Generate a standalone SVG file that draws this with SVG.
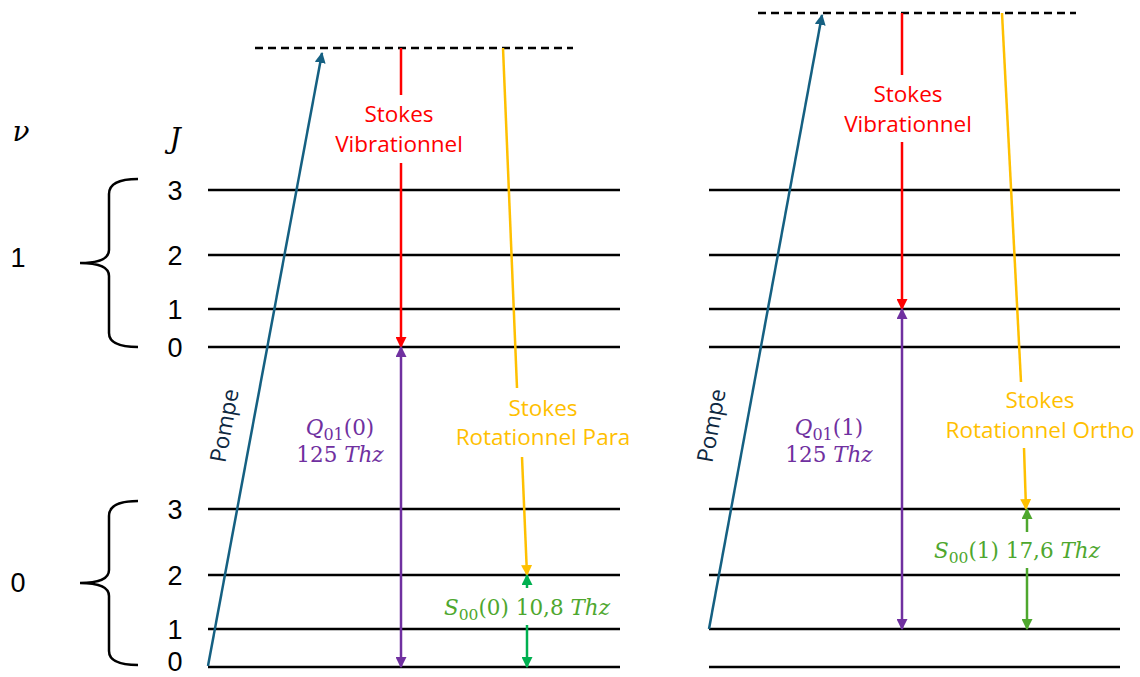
<svg xmlns="http://www.w3.org/2000/svg" width="1140" height="677" viewBox="0 0 1140 677">
<style>
.lvl{stroke:#000;stroke-width:2.5}
.dash{stroke:#000;stroke-width:2.5;stroke-dasharray:8 5}
.brace{fill:none;stroke:#000;stroke-width:2.5}
.num{font-family:"Liberation Sans",Arial,sans-serif;font-size:27px;fill:#000;text-anchor:middle}
.lab{font-family:"Open Sans","Liberation Sans",sans-serif;font-size:22.5px;text-anchor:middle}
.math{font-family:"DejaVu Serif","Liberation Serif",serif;font-size:21.5px;text-anchor:middle}
.it{font-style:italic}
.pump{stroke:#156082;stroke-width:2.5;fill:none}
.red{stroke:#FF0000;stroke-width:2.5;fill:none}
.yel{stroke:#FFC000;stroke-width:2.5;fill:none}
.pur{stroke:#7030A0;stroke-width:2.5;fill:none}
.grn{stroke:#00B050;stroke-width:2.5;fill:none}
.grn2{stroke:#4EA72E;stroke-width:2.5;fill:none}
</style>
<defs>
<marker id="aPump" viewBox="0 0 10 10" refX="9" refY="5" markerWidth="11" markerHeight="11" markerUnits="userSpaceOnUse" orient="auto-start-reverse"><path d="M0,0 L10,5 L0,10 z" fill="#156082"/></marker>
<marker id="aRed" viewBox="0 0 10 10" refX="9" refY="5" markerWidth="11" markerHeight="11" markerUnits="userSpaceOnUse" orient="auto-start-reverse"><path d="M0,0 L10,5 L0,10 z" fill="#FF0000"/></marker>
<marker id="aYel" viewBox="0 0 10 10" refX="9" refY="5" markerWidth="11" markerHeight="11" markerUnits="userSpaceOnUse" orient="auto-start-reverse"><path d="M0,0 L10,5 L0,10 z" fill="#FFC000"/></marker>
<marker id="aPur" viewBox="0 0 10 10" refX="9" refY="5" markerWidth="11" markerHeight="11" markerUnits="userSpaceOnUse" orient="auto-start-reverse"><path d="M0,0 L10,5 L0,10 z" fill="#7030A0"/></marker>
<marker id="aGrn" viewBox="0 0 10 10" refX="9" refY="5" markerWidth="11" markerHeight="11" markerUnits="userSpaceOnUse" orient="auto-start-reverse"><path d="M0,0 L10,5 L0,10 z" fill="#00B050"/></marker>
<marker id="aGrn2" viewBox="0 0 10 10" refX="9" refY="5" markerWidth="11" markerHeight="11" markerUnits="userSpaceOnUse" orient="auto-start-reverse"><path d="M0,0 L10,5 L0,10 z" fill="#4EA72E"/></marker>
</defs>
<rect width="1140" height="677" fill="#fff"/>

<g id="axis-labels">
<text x="21" y="141" font-family="'DejaVu Serif','Liberation Serif',serif" font-style="italic" font-size="28" fill="#000" text-anchor="middle">ν</text>
<text x="175" y="148" font-family="'DejaVu Serif','Liberation Serif',serif" font-style="italic" font-size="28" fill="#000" text-anchor="middle">J</text>
<text class="num" x="18" y="267">1</text>
<text class="num" x="18" y="592">0</text>
</g>

<g id="braces">
<path class="brace" d="M138,179 Q109,179 109,194 L109,250 Q109,263 80,263 Q109,263 109,276 L109,333 Q109,347 138,347"/>
<path class="brace" d="M138,501 Q109,501 109,516 L109,570 Q109,583 80,583 Q109,583 109,596 L109,651 Q109,665 138,665"/>
</g>

<g id="levels-left">
<line class="lvl" x1="208" y1="190" x2="620" y2="190"/>
<line class="lvl" x1="208" y1="255" x2="620" y2="255"/>
<line class="lvl" x1="208" y1="309" x2="620" y2="309"/>
<line class="lvl" x1="208" y1="347" x2="620" y2="347"/>
<line class="lvl" x1="208" y1="509" x2="620" y2="509"/>
<line class="lvl" x1="208" y1="575" x2="620" y2="575"/>
<line class="lvl" x1="208" y1="629" x2="620" y2="629"/>
<line class="lvl" x1="208" y1="667" x2="620" y2="667"/>
<text class="num" x="175" y="200">3</text>
<text class="num" x="175" y="265">2</text>
<text class="num" x="175" y="319">1</text>
<text class="num" x="175" y="357">0</text>
<text class="num" x="175" y="519">3</text>
<text class="num" x="175" y="585">2</text>
<text class="num" x="175" y="639">1</text>
<text class="num" x="175" y="671">0</text>
<line class="dash" x1="255" y1="48" x2="573" y2="48"/>
</g>

<g id="levels-right">
<line class="lvl" x1="709" y1="190" x2="1120" y2="190"/>
<line class="lvl" x1="709" y1="255" x2="1120" y2="255"/>
<line class="lvl" x1="709" y1="309" x2="1120" y2="309"/>
<line class="lvl" x1="709" y1="347" x2="1120" y2="347"/>
<line class="lvl" x1="709" y1="509" x2="1120" y2="509"/>
<line class="lvl" x1="709" y1="575" x2="1120" y2="575"/>
<line class="lvl" x1="709" y1="629" x2="1120" y2="629"/>
<line class="lvl" x1="709" y1="667" x2="1120" y2="667"/>
<line class="dash" x1="758" y1="13" x2="1076" y2="13"/>
</g>

<g id="connectors">
<line class="pump" x1="208" y1="666" x2="322" y2="53" marker-end="url(#aPump)"/>
<line class="pump" x1="709" y1="629" x2="822" y2="15" marker-end="url(#aPump)"/>
<line class="red" x1="401" y1="48" x2="401" y2="95"/>
<line class="red" x1="401" y1="163" x2="401" y2="347" marker-end="url(#aRed)"/>
<line class="red" x1="902" y1="13" x2="902" y2="75"/>
<line class="red" x1="902" y1="142" x2="902" y2="309" marker-end="url(#aRed)"/>
<line class="yel" x1="503" y1="48" x2="517" y2="388"/>
<line class="yel" x1="522" y1="457" x2="527" y2="575" marker-end="url(#aYel)"/>
<line class="yel" x1="1002" y1="13" x2="1021" y2="382"/>
<line class="yel" x1="1024" y1="448" x2="1026" y2="509" marker-end="url(#aYel)"/>
<line class="pur" x1="401" y1="347" x2="401" y2="667" marker-start="url(#aPur)" marker-end="url(#aPur)"/>
<line class="pur" x1="902" y1="309" x2="902" y2="629" marker-start="url(#aPur)" marker-end="url(#aPur)"/>
<line class="grn" x1="527" y1="588" x2="527" y2="575" marker-end="url(#aGrn)"/>
<line class="grn" x1="527" y1="625" x2="527" y2="667" marker-end="url(#aGrn)"/>
<line class="grn2" x1="1027" y1="532" x2="1027" y2="509" marker-end="url(#aGrn2)"/>
<line class="grn2" x1="1027" y1="568" x2="1027" y2="629" marker-end="url(#aGrn2)"/>
</g>

<g id="label-pompe-left">
<text class="lab" x="0" y="0" fill="#0E2841" transform="translate(232,427) rotate(-79.5)">Pompe</text>
</g>
<g id="label-pompe-right">
<text class="lab" x="0" y="0" fill="#0E2841" transform="translate(719,427) rotate(-79.5)">Pompe</text>
</g>

<g id="label-vib-left">
<text class="lab" fill="#FF0000" x="399" y="122">Stokes</text>
<text class="lab" fill="#FF0000" x="399" y="152">Vibrationnel</text>
</g>
<g id="label-vib-right">
<text class="lab" fill="#FF0000" x="908" y="102">Stokes</text>
<text class="lab" fill="#FF0000" x="908" y="132">Vibrationnel</text>
</g>

<g id="label-rot-left">
<text class="lab" fill="#FFC000" x="543" y="416">Stokes</text>
<text class="lab" fill="#FFC000" x="543" y="445">Rotationnel Para</text>
</g>
<g id="label-rot-right">
<text class="lab" fill="#FFC000" x="1040" y="408">Stokes</text>
<text class="lab" fill="#FFC000" x="1040" y="438">Rotationnel Ortho</text>
</g>

<g id="label-q-left">
<text class="math" fill="#7030A0" x="340" y="435" font-size="22.5"><tspan class="it">Q</tspan><tspan font-size="16" dy="5">01</tspan><tspan dy="-5">(0)</tspan></text>
<text class="math" fill="#7030A0" x="340" y="462">125 <tspan class="it">Thz</tspan></text>
</g>
<g id="label-q-right">
<text class="math" fill="#7030A0" x="829" y="435" font-size="22.5"><tspan class="it">Q</tspan><tspan font-size="16" dy="5">01</tspan><tspan dy="-5">(1)</tspan></text>
<text class="math" fill="#7030A0" x="829" y="462">125 <tspan class="it">Thz</tspan></text>
</g>

<g id="label-s-left">
<text class="math" fill="#4EA72E" x="527" y="615"><tspan class="it">S</tspan><tspan font-size="15.5" dy="5">00</tspan><tspan dy="-5">(0) 10,8 </tspan><tspan class="it">Thz</tspan></text>
</g>
<g id="label-s-right">
<text class="math" fill="#4EA72E" x="1017" y="558"><tspan class="it">S</tspan><tspan font-size="15.5" dy="5">00</tspan><tspan dy="-5">(1) 17,6 </tspan><tspan class="it">Thz</tspan></text>
</g>
</svg>
